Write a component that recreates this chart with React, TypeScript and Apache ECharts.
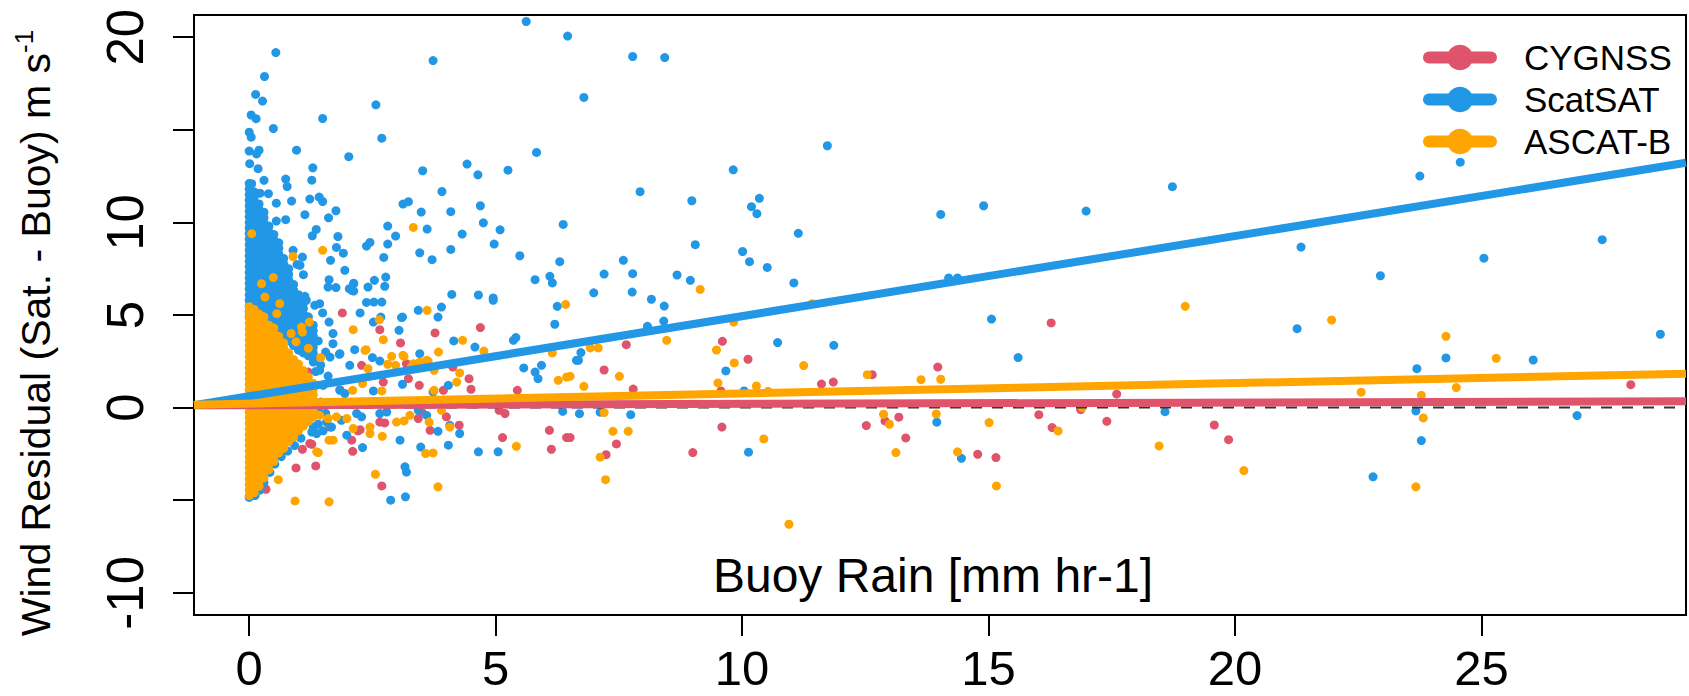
import React, { useEffect, useRef } from "react";
import * as echarts from "echarts";

const FONT = "'Liberation Sans', Arial, Helvetica, sans-serif";

const X_MIN = -1.12;
const X_MAX = 29.15;
const Y_MIN = -11.2;
const Y_MAX = 21.2;
const xTicks = [0, 5, 10, 15, 20, 25];
const yTicks = [-10, -5, 0, 5, 10, 15, 20];
const yTickLabels = [-10, 0, 5, 10, 20];

const seriesNames = ["CYGNSS", "ScatSAT", "ASCAT-B"];
const seriesColors = ["#DF536B", "#2297E6", "#FFA500"];

// regression lines: value at left edge (X_MIN) and right edge (X_MAX)
const cygnssFit = [0.12, 0.34];
const scatsatFit = [0.13, 13.22];
const ascatFit = [0.15, 1.83];

const cygnssPoints: number[][] = [
  [7.65, 3.4], [9.6, 3.58], [10.12, 2.61], [7.2, 2.03], [7.79, 1.0], [9.57, 0.9], [11.61, 1.27], [11.85, 1.38],
  [12.64, 1.78], [13.97, 2.19], [16.27, 4.57], [17.6, 0.73], [6.51, -1.62], [7.45, -1.96], [7.24, -2.54],
  [9.0, -2.43], [9.59, -1.05], [12.52, -0.97], [12.9, -0.72], [13.18, -0.52], [13.32, -1.64], [14.78, -2.52],
  [15.15, -2.7], [16.02, -0.38], [16.29, -1.08], [16.87, -0.11], [17.4, -0.74], [19.58, -0.94], [19.87, -1.73],
  [28.03, 1.24], [1.89, 5.11], [2.65, 4.21], [3.07, 3.49], [3.77, 4.03], [4.69, 4.32], [2.28, 2.28], [2.72, 1.38],
  [3.19, 2.37], [3.23, 1.56], [3.45, 1.2], [3.94, 0.93], [4.13, 2.19], [4.46, 1.56], [4.5, 0.99], [5.44, 0.93],
  [2.65, -0.78], [2.75, -0.83], [3.43, -0.59], [3.67, -1.23], [4.0, -0.5], [4.26, -0.95], [2.25, -1.19],
  [2.08, -1.76], [2.1, -2.36], [1.27, -1.98], [1.08, -2.25], [1.35, -3.15], [0.95, -3.26], [2.69, -4.23],
  [5.14, -1.62], [6.09, -1.23], [6.13, -2.25], [6.44, -1.62], [5.07, -0.15], [5.19, -0.32], [0.34, -4.41],
  [0.28, -4.02], [1.06, 4.53], [1.64, -1.05], [2.21, -1.26], [1.84, 0.97], [1.2, 1.92], [1.1, 1.47], [3.5, -0.24],
  [1.23, -1.94],
];

const scatsatPoints: number[][] = [
  [0.54, 19.17], [0.31, 17.88], [0.13, 16.91], [0.27, 16.55], [0.04, 15.8], [0.14, 15.6], [3.73, 18.74],
  [2.57, 16.35], [2.69, 14.55], [1.49, 15.61], [0.49, 15.07], [0.0, 14.87], [0.04, 14.6], [5.62, 20.85],
  [6.46, 20.06], [5.83, 13.78], [2.02, 13.55], [0.96, 13.9], [0.0, 13.85], [0.2, 13.9], [0.15, 13.7],
  [0.01, 13.17], [0.18, 12.9], [1.29, 12.95], [1.27, 12.28], [3.52, 12.79], [4.42, 13.15], [4.64, 12.57],
  [5.25, 12.82], [0.05, 12.09], [0.3, 12.27], [0.74, 12.34], [0.77, 11.94], [3.91, 11.67], [0.22, 11.58],
  [0.39, 11.55], [0.55, 11.04], [0.86, 11.15], [1.23, 11.26], [1.42, 11.37], [1.49, 11.13], [1.76, 10.63],
  [1.13, 10.42], [1.61, 10.25], [3.12, 10.99], [3.23, 11.12], [4.09, 10.58], [3.49, 10.56], [4.69, 10.9],
  [0.55, 10.07], [0.74, 10.15], [2.81, 9.8], [3.61, 9.64], [4.75, 9.98], [5.09, 9.6], [6.37, 9.89], [1.36, 9.62],
  [1.28, 9.28], [1.8, 9.24], [2.38, 8.72], [2.45, 8.92], [2.81, 8.83], [2.97, 9.26], [4.32, 9.37], [4.97, 8.83],
  [1.77, 8.65], [1.91, 8.34], [3.46, 8.36], [3.71, 7.99], [4.09, 8.54], [5.49, 8.2], [6.3, 7.88], [1.65, 7.95],
  [2.73, 8.11], [1.94, 7.41], [0.89, 8.49], [0.97, 7.73], [1.08, 8.13], [1.03, 7.68], [1.1, 7.18], [0.56, 7.41],
  [0.74, 7.23], [1.62, 6.91], [1.6, 6.51], [1.76, 6.48], [2.12, 6.69], [2.08, 6.33], [2.54, 6.87], [2.41, 6.51],
  [2.77, 7.05], [2.75, 6.55], [4.11, 6.11], [4.65, 6.08], [4.95, 5.92], [5.8, 6.91], [6.1, 7.09], [6.15, 6.73],
  [0.62, 6.55], [1.13, 6.01], [0.79, 5.88],
  [7.78, 18.96], [8.43, 18.9], [6.79, 16.75], [11.73, 14.14], [9.82, 12.84], [7.93, 11.66], [8.98, 11.17],
  [10.35, 11.3], [10.19, 10.85], [10.3, 10.47], [11.14, 9.41], [14.03, 10.43], [14.9, 10.9], [16.98, 10.61],
  [9.05, 8.8], [7.59, 7.95], [10.01, 8.43], [10.15, 7.88], [10.51, 7.57], [7.2, 7.21], [7.78, 7.23], [8.68, 7.16],
  [8.95, 6.87], [6.99, 6.2], [7.77, 6.24], [8.16, 5.85], [8.42, 5.48], [11.05, 6.73], [14.19, 7.0], [14.37, 7.0],
  [18.73, 11.93], [23.75, 12.5], [24.57, 13.25], [21.34, 8.67], [22.95, 7.12], [25.05, 8.07], [27.45, 9.07],
  [8.08, 4.39], [8.41, 4.67], [6.73, 2.97], [6.68, 2.55], [10.72, 3.51], [11.86, 3.36], [9.67, 1.98],
  [15.06, 4.78], [15.6, 2.7], [10.04, 0.9], [6.7, -0.33], [7.12, -0.25], [7.74, -0.38], [10.13, -2.41],
  [13.95, -0.79], [14.45, -2.74], [21.26, 4.26], [23.69, 2.1], [24.28, 2.68], [26.05, 2.57], [28.63, 3.96],
  [18.58, -0.22], [23.67, -0.18], [23.78, -1.78], [22.8, -3.74], [26.94, -0.43],
  [2.25, 5.11], [2.52, 4.62], [2.67, 4.89], [3.04, 4.17], [3.11, 4.89], [3.43, 5.25], [3.83, 4.89], [3.9, 5.43],
  [4.15, 3.6], [4.58, 3.27], [4.95, 5.79], [5.36, 3.63], [5.41, 3.78], [5.57, 2.14], [5.8, 1.92], [5.86, 1.56],
  [5.93, 2.28], [6.2, 4.5], [6.25, 5.47], [6.64, 2.55], [6.36, -0.2], [3.46, 2.91], [2.65, 2.51], [2.04, 2.28],
  [1.83, 2.88], [1.7, 3.45], [1.3, 2.46], [1.43, 2.01], [1.84, 0.93], [1.94, 0.76], [2.52, 0.9], [3.11, 1.26],
  [3.73, 0.84], [4.04, 1.2], [3.43, -0.15], [3.6, -0.42], [2.65, -0.32], [2.79, -0.24], [2.18, -0.32],
  [2.28, -0.5], [1.87, -0.69], [1.57, -0.78], [1.67, -1.05], [1.3, -1.05], [1.27, -1.32], [1.37, -1.4],
  [1.98, -1.49], [4.07, -0.96], [4.27, -1.4], [3.06, -1.76], [3.83, -1.28], [4.04, -2.03], [3.48, -2.13],
  [2.3, -2.16], [3.16, -3.2], [3.19, -3.48], [2.87, -5.0], [3.17, -4.82], [4.65, -2.39], [5.05, -2.39],
  [2.12, 6.72], [2.12, 6.29], [2.03, 6.42], [2.38, 5.68], [2.53, 5.7], [2.69, 5.7], [3.09, 4.86], [1.06, 5.7],
  [1.16, 5.79], [1.33, 5.52], [1.43, 5.61], [1.49, 5.11], [1.62, 4.62], [2.5, 2.7], [2.14, 3.13], [1.84, 2.91],
  [1.64, 2.73],
  [0.0, -4.85], [0.05, -4.55], [0.12, -4.75], [0.22, -4.45], [0.3, -4.05], [0.42, -3.5], [0.52, -3.05],
  [0.65, -2.65], [0.78, -2.35], [0.92, -2.05], [1.05, -1.65], [1.12, -0.2], [1.25, -0.55], [1.4, -0.9],
  [1.5, -1.25], [1.55, -0.3], [1.45, 0.3], [1.5, 1.2], [1.45, 2.3], [1.6, 1.7], [1.55, 3.0], [1.4, 3.6],
  [1.7, 4.0], [1.35, 1.95], [1.4, -0.1],
];

// the solid column of ScatSAT points at very light rain: x and the y values stacked there
const scatsatDenseColumns = [
  { x: 0.0, y: [4.9, 5.2, 5.5, 5.8, 6.1, 6.4, 6.7, 7.0, 7.3, 7.6, 7.9, 8.2, 8.5, 8.8, 9.1, 9.4, 9.7, 10.0, 10.3, 10.6, 10.9, 11.2, 11.5, 11.8, 12.1] },
  { x: 0.1, y: [4.75, 5.05, 5.35, 5.65, 5.95, 6.25, 6.55, 6.85, 7.15, 7.45, 7.75, 8.05, 8.35, 8.65, 8.95, 9.25, 9.55, 9.85, 10.15, 10.45, 10.75, 11.05, 11.35, 11.65] },
  { x: 0.2, y: [4.7, 5.0, 5.3, 5.6, 5.9, 6.2, 6.5, 6.8, 7.1, 7.4, 7.7, 8.0, 8.3, 8.6, 8.9, 9.2, 9.5, 9.8, 10.1, 10.4, 10.7, 11.0] },
  { x: 0.3, y: [4.55, 4.85, 5.15, 5.45, 5.75, 6.05, 6.35, 6.65, 6.95, 7.25, 7.55, 7.85, 8.15, 8.45, 8.75, 9.05, 9.35, 9.65, 9.95, 10.25, 10.55] },
  { x: 0.4, y: [4.4, 4.7, 5.0, 5.3, 5.6, 5.9, 6.2, 6.5, 6.8, 7.1, 7.4, 7.7, 8.0, 8.3, 8.6, 8.9, 9.2, 9.5, 9.8] },
  { x: 0.5, y: [4.25, 4.55, 4.85, 5.15, 5.45, 5.75, 6.05, 6.35, 6.65, 6.95, 7.25, 7.55, 7.85, 8.15, 8.45, 8.75, 9.05, 9.35] },
  { x: 0.6, y: [4.1, 4.4, 4.7, 5.0, 5.3, 5.6, 5.9, 6.2, 6.5, 6.8, 7.1, 7.4, 7.7, 8.0, 8.3, 8.6, 8.9] },
  { x: 0.7, y: [3.85, 4.15, 4.45, 4.75, 5.05, 5.35, 5.65, 5.95, 6.25, 6.55, 6.85, 7.15, 7.45, 7.75, 8.05] },
  { x: 0.8, y: [3.6, 3.9, 4.2, 4.5, 4.8, 5.1, 5.4, 5.7, 6.0, 6.3, 6.6, 6.9, 7.2, 7.5] },
  { x: 0.9, y: [3.35, 3.65, 3.95, 4.25, 4.55, 4.85, 5.15, 5.45, 5.75, 6.05, 6.35, 6.65] },
  { x: 1.0, y: [3.1, 3.4, 3.7, 4.0, 4.3, 4.6, 4.9, 5.2, 5.5, 5.8, 6.1] },
  { x: 1.1, y: [2.95, 3.25, 3.55, 3.85, 4.15, 4.45, 4.75, 5.05, 5.35, 5.65] },
  { x: 1.2, y: [2.8, 3.1, 3.4, 3.7, 4.0, 4.3, 4.6, 4.9] },
  { x: 1.3, y: [2.65, 2.95, 3.25, 3.55, 3.85, 4.15, 4.45] },
];

const ascatPoints: number[][] = [
  [3.33, 9.73], [0.05, 9.39], [1.49, 8.49], [0.89, 8.16], [0.49, 7.02], [0.25, 6.69], [0.32, 5.97], [0.62, 5.61],
  [0.56, 5.07], [9.15, 6.38], [11.42, 5.61], [18.99, 5.47],
  [6.92, 3.22], [7.08, 3.22], [8.47, 3.63], [9.83, 4.62], [9.48, 3.11], [9.84, 2.41], [11.25, 2.27], [7.51, 1.69],
  [6.79, 1.15], [6.51, 1.69], [9.51, 1.33], [10.29, 1.17], [10.53, 0.88], [12.54, 1.78], [13.63, 1.51],
  [14.03, 1.53], [7.2, -0.27], [7.38, -1.28], [7.69, -1.28], [7.12, -2.68], [7.23, -3.89], [10.44, -1.69],
  [10.95, -6.3], [12.87, -0.36], [12.99, -0.9], [13.12, -2.43], [13.94, -0.34], [14.37, -2.39], [15.01, -0.81],
  [15.16, -4.23], [16.41, -1.26], [16.9, 0.0],
  [21.96, 4.73], [24.28, 3.85], [25.3, 2.66], [22.56, 0.83], [23.78, 0.66], [24.49, 1.08], [23.82, -0.56],
  [18.46, -2.07], [20.18, -3.4], [23.67, -4.28],
  [3.61, 5.25], [2.11, 4.21], [2.72, 3.67], [2.35, 3.09], [2.89, 2.77], [3.14, 2.77], [2.81, 2.34], [2.41, 2.1],
  [2.3, 1.3], [3.33, 2.37], [3.46, 2.46], [3.63, 2.51], [3.84, 3.0], [3.75, 2.01], [4.27, 1.87], [4.33, 3.63],
  [4.76, 3.05], [4.21, 1.38], [3.75, 0.93], [2.1, 0.93], [2.69, 0.9], [6.27, 1.47], [6.44, 1.65], [6.15, 2.95],
  [6.42, 5.57], [1.43, -0.42], [1.6, -0.59], [1.77, -0.5], [1.98, -0.59], [2.11, -1.13], [2.45, -1.05],
  [2.45, -1.4], [2.7, -1.55], [2.99, -0.78], [3.26, -0.42], [3.14, -0.72], [3.65, -0.78], [3.9, -0.15],
  [4.07, -1.05], [3.73, -2.45], [3.58, -2.48], [1.62, -1.76], [1.7, -1.76], [1.4, -2.43], [5.42, -2.09],
  [2.56, -3.6], [3.83, -4.28], [1.62, -5.09], [0.93, -5.04], [0.59, -3.89], [1.37, -2.39],
  [1.22, 4.62], [1.06, 4.35], [1.08, 4.08], [2.64, 4.75], [3.12, 2.82], [2.97, 2.28], [3.29, 2.19], [3.6, 2.55],
  [2.37, 3.13], [0.95, 3.55], [1.2, 3.2], [1.45, 2.7], [0.85, 4.0],
];

// the solid column of ASCAT-B points at very light rain
const ascatDenseColumns = [
  { x: 0.0, y: [-4.75, -4.45, -4.15, -3.85, -3.55, -3.25, -2.95, -2.65, -2.35, -2.05, -1.75, -1.45, -1.15, -0.85, -0.55, -0.25, 0.05, 0.35, 0.65, 0.95, 1.25, 1.55, 1.85, 2.15, 2.45, 2.75, 3.05, 3.35, 3.65, 3.95, 4.25, 4.55, 4.85, 5.15, 5.45] },
  { x: 0.1, y: [-4.6, -4.3, -4.0, -3.7, -3.4, -3.1, -2.8, -2.5, -2.2, -1.9, -1.6, -1.3, -1.0, -0.7, -0.4, -0.1, 0.2, 0.5, 0.8, 1.1, 1.4, 1.7, 2.0, 2.3, 2.6, 2.9, 3.2, 3.5, 3.8, 4.1, 4.4, 4.7, 5.0, 5.3] },
  { x: 0.2, y: [-4.25, -3.95, -3.65, -3.35, -3.05, -2.75, -2.45, -2.15, -1.85, -1.55, -1.25, -0.95, -0.65, -0.35, -0.05, 0.25, 0.55, 0.85, 1.15, 1.45, 1.75, 2.05, 2.35, 2.65, 2.95, 3.25, 3.55, 3.85, 4.15, 4.45, 4.75, 5.05] },
  { x: 0.3, y: [-3.8, -3.5, -3.2, -2.9, -2.6, -2.3, -2.0, -1.7, -1.4, -1.1, -0.8, -0.5, -0.2, 0.1, 0.4, 0.7, 1.0, 1.3, 1.6, 1.9, 2.2, 2.5, 2.8, 3.1, 3.4, 3.7, 4.0, 4.3, 4.6, 4.9] },
  { x: 0.4, y: [-3.35, -3.05, -2.75, -2.45, -2.15, -1.85, -1.55, -1.25, -0.95, -0.65, -0.35, -0.05, 0.25, 0.55, 0.85, 1.15, 1.45, 1.75, 2.05, 2.35, 2.65, 2.95, 3.25, 3.55, 3.85, 4.15, 4.45] },
  { x: 0.5, y: [-2.9, -2.6, -2.3, -2.0, -1.7, -1.4, -1.1, -0.8, -0.5, -0.2, 0.1, 0.4, 0.7, 1.0, 1.3, 1.6, 1.9, 2.2, 2.5, 2.8, 3.1, 3.4, 3.7, 4.0, 4.3] },
  { x: 0.6, y: [-2.45, -2.15, -1.85, -1.55, -1.25, -0.95, -0.65, -0.35, -0.05, 0.25, 0.55, 0.85, 1.15, 1.45, 1.75, 2.05, 2.35, 2.65, 2.95, 3.25, 3.55, 3.85] },
  { x: 0.7, y: [-2.2, -1.9, -1.6, -1.3, -1.0, -0.7, -0.4, -0.1, 0.2, 0.5, 0.8, 1.1, 1.4, 1.7, 2.0, 2.3, 2.6, 2.9, 3.2, 3.5] },
  { x: 0.8, y: [-1.85, -1.55, -1.25, -0.95, -0.65, -0.35, -0.05, 0.25, 0.55, 0.85, 1.15, 1.45, 1.75, 2.05, 2.35, 2.65, 2.95] },
  { x: 0.9, y: [-1.6, -1.3, -1.0, -0.7, -0.4, -0.1, 0.2, 0.5, 0.8, 1.1, 1.4, 1.7, 2.0, 2.3, 2.6] },
  { x: 1.0, y: [-1.25, -0.95, -0.65, -0.35, -0.05, 0.25, 0.55, 0.85, 1.15, 1.45, 1.75, 2.05, 2.35] },
  { x: 1.1, y: [-1.0, -0.7, -0.4, -0.1, 0.2, 0.5, 0.8, 1.1, 1.4, 1.7, 2.0] },
  { x: 1.2, y: [-0.75, -0.45, -0.15, 0.15, 0.45, 0.75, 1.05, 1.35, 1.65] },
  { x: 1.3, y: [-0.5, -0.2, 0.1, 0.4, 0.7, 1.0, 1.3] },
];

const columnsToPoints = (cols: { x: number; y: number[] }[]) =>
  cols.flatMap((c) => c.y.map((v) => [c.x, v]));

export default function App() {
  const ref = useRef<HTMLDivElement>(null);

  useEffect(() => {
    if (!ref.current) return;
    const chart = echarts.init(ref.current, undefined, { renderer: "svg" });

    const fits = [cygnssFit, scatsatFit, ascatFit];
    const scatterData = [
      cygnssPoints,
      [...columnsToPoints(scatsatDenseColumns), ...scatsatPoints],
      [...columnsToPoints(ascatDenseColumns), ...ascatPoints],
    ];

    const lineSeries = seriesNames.map((name, i) => ({
      name,
      type: "line",
      data: [
        [X_MIN, fits[i][0]],
        [X_MAX, fits[i][1]],
      ],
      symbol: "circle",
      showSymbol: false,
      color: seriesColors[i],
      itemStyle: { color: seriesColors[i] },
      lineStyle: { color: seriesColors[i], width: 8 },
      z: 6 + i,
      silent: true,
      emphasis: { disabled: true },
    }));

    const scatterSeries = seriesNames.map((name, i) => ({
      name,
      type: "scatter",
      data: scatterData[i],
      symbol: "circle",
      symbolSize: 9,
      color: seriesColors[i],
      itemStyle: { color: seriesColors[i], opacity: 1 },
      z: 2 + i,
      silent: true,
      progressive: 0,
      emphasis: { disabled: true },
    }));

    const zeroLine = {
      name: "zero",
      type: "line",
      data: [
        [X_MIN, 0],
        [X_MAX, 0],
      ],
      showSymbol: false,
      symbol: "none",
      lineStyle: { color: "#333333", width: 2, type: [11, 10] },
      z: 5,
      silent: true,
      emphasis: { disabled: true },
    };

    chart.setOption({
      animation: false,
      backgroundColor: "#ffffff",
      textStyle: { fontFamily: FONT },
      grid: {
        left: 194,
        top: 15,
        width: 1492,
        height: 600,
        show: true,
        borderColor: "#000000",
        borderWidth: 2,
        backgroundColor: "transparent",
        containLabel: false,
        outerBoundsMode: "none",
      },
      legend: {
        data: seriesNames,
        orient: "vertical",
        left: 1423,
        top: 40,
        padding: 0,
        itemGap: 7,
        itemWidth: 62,
        itemHeight: 32,
        selectedMode: false,
        textStyle: {
          fontSize: 35,
          lineHeight: 35,
          fontFamily: FONT,
          color: "#000000",
          padding: [0, 0, 0, 28],
        },
        lineStyle: { width: 12, cap: "round" },
      },
      xAxis: {
        type: "value",
        min: X_MIN,
        max: X_MAX,
        splitLine: { show: false },
        axisLine: { show: true, onZero: false, lineStyle: { color: "#000000", width: 2 } },
        axisTick: { show: true, length: 21, customValues: xTicks, lineStyle: { color: "#000000", width: 2 } },
        axisLabel: {
          customValues: xTicks,
          fontSize: 49,
          lineHeight: 38,
          fontFamily: FONT,
          color: "#000000",
          margin: 34,
        },
        name: "Buoy Rain [mm hr-1]",
        nameLocation: "middle",
        nameGap: -40,
        nameTextStyle: {
          fontSize: 48,
          fontFamily: FONT,
          color: "#000000",
          align: "center",
          verticalAlign: "middle",
          padding: [0, 14, 0, 0],
        },
      },
      yAxis: {
        type: "value",
        min: Y_MIN,
        max: Y_MAX,
        splitLine: { show: false },
        axisLine: { show: true, onZero: false, lineStyle: { color: "#000000", width: 2 } },
        axisTick: { show: true, length: 21, customValues: yTicks, lineStyle: { color: "#000000", width: 2 } },
        axisLabel: {
          customValues: yTickLabels,
          rotate: 90,
          fontSize: 51,
          lineHeight: 38,
          fontFamily: FONT,
          color: "#000000",
          margin: 50,
        },
        name: "{a|Wind Residual (Sat. - Buoy) m s}{b|-1}",
        nameLocation: "middle",
        nameRotate: 90,
        nameGap: 158,
        nameTextStyle: {
          align: "center",
          verticalAlign: "middle",
          padding: [0, 36, 0, 0],
          rich: {
            a: { fontSize: 41, fontFamily: FONT, color: "#000000", lineHeight: 51 },
            b: { fontSize: 26, fontFamily: FONT, color: "#000000", lineHeight: 26, verticalAlign: "top" },
          },
        },
      },
      series: [...lineSeries, ...scatterSeries, zeroLine],
    });

    return () => chart.dispose();
  }, []);

  return (
    <div
      ref={ref}
      style={{ position: "fixed", left: 0, top: 0, width: "1689px", height: "696px" }}
    />
  );
}
